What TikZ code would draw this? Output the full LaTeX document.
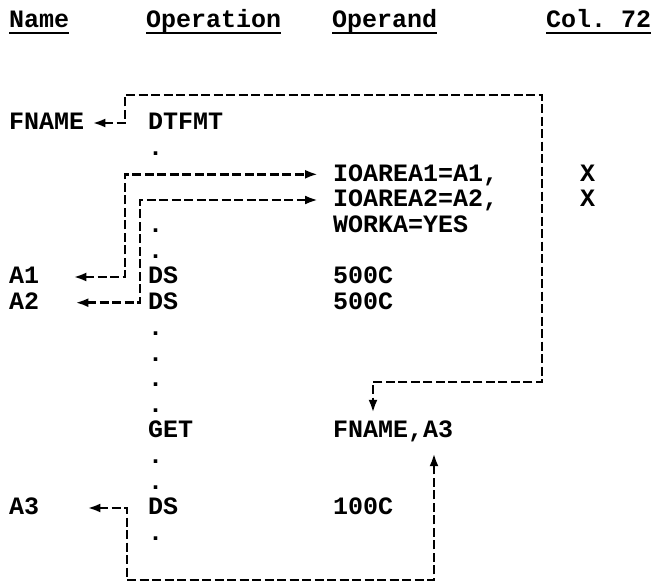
\documentclass[tikz,border=0pt]{standalone}
\usepackage{fontspec}
\setmonofont{Liberation Mono}
\usepackage{tikz}
\usetikzlibrary{arrows.meta}
\newcommand{\code}{\ttfamily\bfseries\fontsize{25}{25}\selectfont}

\begin{document}
\begin{tikzpicture}[x=1pt, y=-1pt,
  every node/.style={inner sep=0pt, anchor=base west, text height=14pt, text depth=0pt, font=\code},
  head/.style={text depth=5pt},
  link/.style={{Latex[length=13pt,width=9pt]}-{Latex[length=13pt,width=9pt]}, line width=2.7pt, dash pattern=on 9pt off 3.5pt},
  uline/.style={line width=1.8pt}]
\useasboundingbox (0,0) rectangle (657,585);
\node[head] (hname) at (9,28) {Name};
\node[head] (hop) at (146,28) {Operation};
\node[head] (hopd) at (332,28) {Operand};
\node[head] (hcol) at (546,28) {Col.\ 72};
\foreach \h in {hname,hop,hopd,hcol}
  \draw[uline] (\h.south west) -- (\h.south east);
\node (fname) at (9,130) {FNAME};
\node (dtfmt) at (148,130) {DTFMT};
\foreach \r in {1,4,5,8,9,10,11,13,14,16}
  \node (dot\r) at (148,{130+25.67*\r}) {.};
\node (io1) at (333,181.3) {IOAREA1=A1,};
\node (x1) at (580,181.3) {X};
\node (io2) at (333,207) {IOAREA2=A2,};
\node (x2) at (580,207) {X};
\node (worka) at (333,232.7) {WORKA=YES};
\node (a1) at (9,284) {A1};
\node (ds1) at (148,284) {DS};
\node (sz1) at (333,284) {500C};
\node (a2) at (9,309.7) {A2};
\node (ds2) at (148,309.7) {DS};
\node (sz2) at (333,309.7) {500C};
\node (get) at (148,438) {GET};
\node (getop) at (333,438) {FNAME,A3};
\node (a3) at (9,515) {A3};
\node (ds3) at (148,515) {DS};
\node (sz3) at (333,515) {100C};
\coordinate (railA) at (125,0);
\coordinate (railB) at (140,0);
\coordinate (loopTL) at (125,95);
\coordinate (loopBR) at (542,382);
\coordinate (loopBL) at (127,580);
\draw[link] ([xshift=8pt]fname.east) -| (loopTL) -| (loopBR) -| ([xshift=40pt,yshift=11pt]getop.north west);
\draw[link] ([xshift=34pt]a1.east) -| (railA |- io1.west) -- ([xshift=-15pt]io1.west);
\draw[link] ([xshift=36pt]a2.east) -| (railB |- io2.west) -- ([xshift=-15pt]io2.west);
\draw[link] ([xshift=48pt]a3.east) -| (loopBL) -| ([xshift=101pt,yshift=-15pt]getop.south west);
\end{tikzpicture}
\end{document}
